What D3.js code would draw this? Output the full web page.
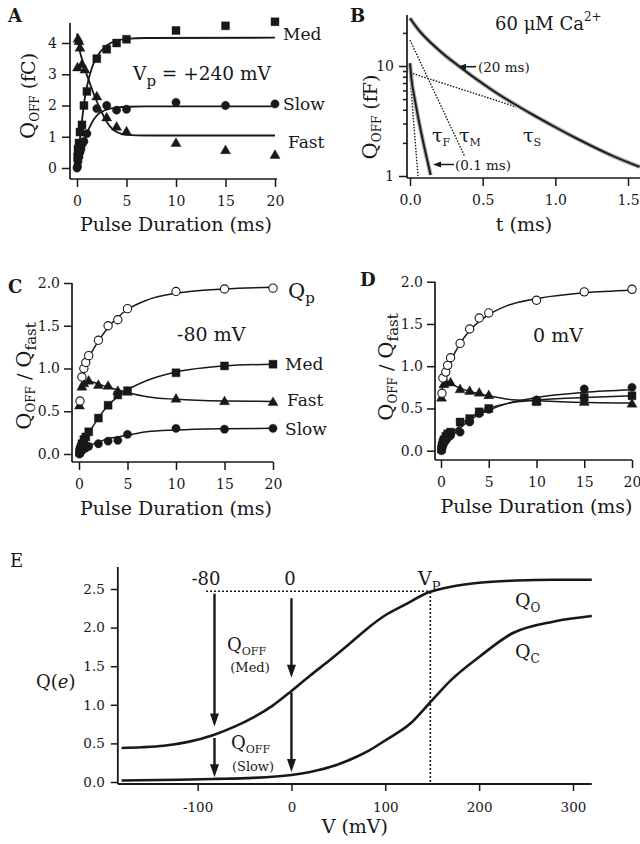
<!DOCTYPE html>
<html><head><meta charset="utf-8">
<script src="https://cdn.jsdelivr.net/npm/d3@7"></script>
<style>
body{margin:0;background:#fff;}
svg{display:block;}
</style></head><body>
<svg id="chart" width="640" height="844"></svg>
<script>
// ================= DATA =================
// Panel A (Vp = +240 mV), pulse duration (ms) vs QOFF (fC)
const aMedT  = [0.05,0.1,0.2,0.3,0.5,0.7,1,2,3,4,5,10,15,20];
const aMedV  = [0.35,0.6,0.8,1.15,1.38,2.0,2.45,3.5,3.8,4.0,4.12,4.4,4.55,4.68];
const aSlowT = [0,0.05,0.1,0.2,0.3,0.4,0.5,0.7,1,2,3,4,5,10,15,20];
const aSlowV = [0,0.05,0.2,0.35,0.5,0.6,0.75,0.85,1.1,1.9,2.0,1.85,1.88,2.1,2.0,2.05];
const aFastT = [0.05,0.1,0.2,0.3,0.5,0.8,2,3,4,5,10,15,20];
const aFastV = [3.2,4.12,4.04,3.83,3.3,3.13,2.27,1.6,1.3,1.15,0.78,0.55,0.4];
const aFitMedT  = [0,0.25,0.5,0.75,1,1.5,2,3,4,5,7,20];
const aFitMedV  = [0.1,0.8,1.5,2.15,2.6,3.2,3.55,3.92,4.08,4.13,4.16,4.17];
const aFitSlowT = [0,0.5,1,1.5,2,3,4,5,7,20];
const aFitSlowV = [0,0.65,1.1,1.45,1.68,1.87,1.93,1.96,1.97,1.97];
const aFitFastT = [0,0.3,0.64,0.9,1.3,1.8,2.4,3,4,5,7,20];
const aFitFastV = [4.3,3.72,3.35,3.07,2.71,2.28,1.85,1.48,1.15,1.06,1.04,1.04];
const aYTicks = [0,1,2,3,4];
const pdTicks = [0,5,10,15,20];

// Panel B (60 uM Ca2+), t (ms) vs QOFF (fF), log scale
const bMainT = [0,0.069,0.16,0.25,0.343,0.458,0.572,0.71,0.847,0.984,1.122,1.259,1.396,1.58];
const bMainQ = [27.2,20.5,15.5,12.2,9.85,7.57,5.96,4.58,3.59,2.85,2.28,1.85,1.52,1.21];
const bFastT = [0,0.011,0.034,0.069,0.103,0.142];
const bFastQ = [10.6,7.46,4.9,2.8,1.72,1.02];
const bTauFT = [0,0.055], bTauFQ = [8.1,1.0];
const bTauMT = [0,0.377], bTauMQ = [17.2,1.5];
const bTauST = [0,0.73],  bTauSQ = [8.7,4.25];
const bXTicks = [0,0.5,1.0,1.5];
const bYMajor = [1,10];
const bYMinor = [2,3,4,5,6,7,8,9,20];

// Panel C (-80 mV), QOFF/Qfast
const cQpT   = [0.1,0.3,0.5,0.7,1,2,3,4,5,10,15,20];
const cQpV   = [0.62,0.9,1.0,1.07,1.15,1.33,1.5,1.57,1.7,1.9,1.93,1.94];
const cMedT  = [0.05,0.1,0.2,0.3,0.5,0.7,1,2,3,4,5,10,15,20];
const cMedV  = [0.02,0.05,0.08,0.12,0.17,0.2,0.26,0.42,0.57,0.69,0.74,0.95,1.03,1.05];
const cFastT = [0.05,0.3,0.5,1,2,3,4,5,10,15,20];
const cFastV = [0.56,0.78,0.82,0.85,0.8,0.79,0.73,0.72,0.64,0.61,0.6];
const cSlowT = [0.05,0.1,0.2,0.3,0.5,0.7,1,2,3,4,5,10,15,20];
const cSlowV = [0.0,0.01,0.03,0.04,0.06,0.07,0.09,0.12,0.15,0.16,0.23,0.3,0.29,0.3];
const cFitQpT   = [0.2,0.5,1,2,3,4,5,7,10,15,20];
const cFitQpV   = [0.88,0.98,1.12,1.32,1.48,1.6,1.69,1.8,1.88,1.93,1.95];
const cFitMedT  = [0,0.5,1,2,3,4,5,7,10,15,20];
const cFitMedV  = [0.0,0.13,0.24,0.42,0.57,0.67,0.75,0.86,0.96,1.03,1.05];
const cFitFastT = [0.1,0.5,1,2,3,4,5,7,10,15,20];
const cFitFastV = [0.78,0.84,0.85,0.82,0.78,0.75,0.72,0.67,0.64,0.62,0.615];
const cFitSlowT = [0,0.5,1,2,3,4,5,7,10,15,20];
const cFitSlowV = [0,0.05,0.09,0.14,0.18,0.2,0.22,0.26,0.28,0.295,0.3];
const ratioTicks = [0,0.5,1,1.5,2];

// Panel D (0 mV)
const dQpT   = [0.1,0.2,0.5,0.7,1,2,3,4,5,10,15,20];
const dQpV   = [0.68,0.86,0.93,1.01,1.1,1.27,1.44,1.57,1.63,1.78,1.88,1.91];
const dFastT = [0.05,0.3,0.5,1,2,3,4,5,10,15,20];
const dFastV = [0.62,0.78,0.8,0.8,0.72,0.7,0.68,0.65,0.58,0.57,0.55];
const dMedT  = [0.05,0.1,0.2,0.3,0.5,0.7,1,2,3,4,5,10,15,20];
const dMedV  = [0.02,0.06,0.1,0.13,0.17,0.2,0.22,0.34,0.38,0.46,0.5,0.58,0.63,0.65];
const dSlowT = [0.05,0.1,0.2,0.3,0.5,0.7,1,2,3,4,5,10,15,20];
const dSlowV = [0.0,0.03,0.06,0.09,0.12,0.15,0.18,0.22,0.34,0.44,0.49,0.6,0.73,0.75];
const dFitQpT   = [0.1,0.5,1,2,3,4,5,7,10,15,20];
const dFitQpV   = [0.72,0.9,1.05,1.27,1.42,1.53,1.61,1.72,1.8,1.87,1.9];
const dFitFastT = [0.1,0.5,1,2,3,5,7,10,15,20];
const dFitFastV = [0.78,0.8,0.79,0.74,0.7,0.65,0.61,0.59,0.57,0.565];
const dFitMedT  = [0,0.5,1,2,3,4,5,7,10,15,20];
const dFitMedV  = [0,0.1,0.18,0.3,0.39,0.45,0.5,0.56,0.6,0.63,0.65];
const dFitSlowT = [0,0.5,1,2,3,4,5,7,10,15,20];
const dFitSlowV = [0,0.08,0.15,0.27,0.36,0.43,0.48,0.56,0.63,0.69,0.72];

// Panel E, V (mV) vs Q(e)
const eQOV = [-181,-160,-136,-110,-83,-60,-40,-20,0,20,40,60,80,100,120,147,170,200,240,280,320];
const eQO  = [0.44,0.45,0.47,0.52,0.61,0.72,0.84,0.99,1.18,1.38,1.57,1.77,1.98,2.16,2.29,2.46,2.53,2.58,2.61,2.62,2.62];
const eQCV = [-181,-120,-80,-48,0,20,48,70,83,100,127,147,170,200,236,280,320];
const eQC  = [0.02,0.03,0.04,0.05,0.09,0.13,0.22,0.33,0.41,0.54,0.76,1.02,1.32,1.62,1.93,2.08,2.15];
const eXTicks = [-100,0,100,200,300];
const eYTicks = [0,0.5,1,1.5,2,2.5];
const eVp = 148, eQlevel = 2.47;
const eHoldV = [-82, 0];          // holding potentials of the arrows
const eMedArrowQ  = [[2.44,0.72],[2.38,1.35]];  // [from, to] for -80 and 0
const eSlowArrowQ = [[0.57,0.06],[1.16,0.13]];

// ================= DRAWING =================
const svg = d3.select('#chart');
const FONT = '"DejaVu Serif","Liberation Serif",serif';
const INK = '#181818';

function styleAxis(sel, fs){
  sel.select('.domain').remove();
  sel.selectAll('.tick line').attr('stroke',INK).attr('stroke-width',1.5);
  sel.selectAll('.tick text').attr('font-family',FONT).attr('font-size',fs).attr('fill',INK);
  return sel;
}
function hline(g,x1,x2,y,w=1.7){ g.append('line').attr('x1',x1).attr('x2',x2).attr('y1',y).attr('y2',y).attr('stroke',INK).attr('stroke-width',w); }
function vline(g,x,y1,y2,w=1.7){ g.append('line').attr('x1',x).attr('x2',x).attr('y1',y1).attr('y2',y2).attr('stroke',INK).attr('stroke-width',w); }
function pairs(xs,ys){ return xs.map((v,i)=>[v,ys[i]]); }
function drawFit(g, xs, ys, x, y, opt={}){
  const line = d3.line().x(d=>x(d[0])).y(d=>y(d[1])).curve(opt.curve||d3.curveMonotoneX);
  g.append('path').datum(pairs(xs,ys)).attr('d',line).attr('fill','none')
   .attr('stroke',opt.color||INK).attr('stroke-width',opt.w||1.6)
   .attr('stroke-dasharray',opt.dash||null).attr('stroke-linecap',opt.cap||'butt');
}
function drawMarks(g, xs, ys, x, y, type, open=false){
  const sym = {square:d3.symbolSquare, circle:d3.symbolCircle, triangle:d3.symbolTriangle}[type];
  const size = {square:64, circle:54, triangle:44}[type];
  g.append('g').selectAll('path').data(pairs(xs,ys)).join('path')
   .attr('transform',d=>`translate(${x(d[0])},${y(d[1])})`)
   .attr('d', d3.symbol().type(sym).size(size)())
   .attr('fill', open?'#fff':INK).attr('stroke',INK).attr('stroke-width', open?1.1:0.4);
}
function rich(g, x, y, segs, opt={}){
  const t = g.append('text').attr('x',x).attr('y',y).attr('font-family',FONT)
    .attr('font-size',opt.size||18).attr('text-anchor',opt.anchor||'start').attr('fill',INK);
  if (opt.rotate) t.attr('transform',`rotate(${opt.rotate},${x},${y})`);
  if (opt.weight) t.attr('font-weight',opt.weight);
  let shift = 0;
  segs.forEach(s=>{
    const txt=s[0], kind=s[1]||'n', sz=s[2], off=s[3];
    const ts = t.append('tspan').text(txt);
    let target = 0;
    if (kind==='sub') target = (off!=null?off:5);
    if (kind==='sup') target = -(off!=null?off:8);
    if (target-shift!==0) ts.attr('dy', target-shift);
    shift = target;
    if (sz) ts.attr('font-size', sz);
    if (kind==='it') ts.attr('font-style','italic');
  });
  return t;
}
function arrowDown(g, x, y1, y2, w=2.4, hl=13, hw=9){
  vline(g, x, y1, y2-hl+2, w);
  g.append('path').attr('d',`M${x-hw/2},${y2-hl}L${x+hw/2},${y2-hl}L${x},${y2}Z`).attr('fill',INK);
}
function arrowLeft(g, x1, x2, y, w=1.5, hl=8, hw=6){
  hline(g, x2+hl-1, x1, y, w);
  g.append('path').attr('d',`M${x2+hl},${y-hw/2}L${x2+hl},${y+hw/2}L${x2},${y}Z`).attr('fill',INK);
}

// ---------- Panel A ----------
{
  const g = svg.append('g');
  const x = d3.scaleLinear().domain([0,20]).range([77,275]);
  const y = d3.scaleLinear().domain([0,4]).range([168,43]);
  vline(g,70,23,179); hline(g,70,277,179);
  styleAxis(g.append('g').attr('transform','translate(70,0)')
    .call(d3.axisLeft(y).tickValues(aYTicks).tickSize(8).tickPadding(5).tickFormat(d3.format('d'))),14);
  styleAxis(g.append('g').attr('transform','translate(0,179)')
    .call(d3.axisBottom(x).tickValues(pdTicks).tickSize(8).tickPadding(9).tickFormat(d3.format('d'))),14);
  drawFit(g,aFitMedT,aFitMedV,x,y,{w:1.8});
  drawFit(g,aFitSlowT,aFitSlowV,x,y,{w:1.8});
  drawFit(g,aFitFastT,aFitFastV,x,y,{w:1.8});
  drawMarks(g,aMedT,aMedV,x,y,'square');
  drawMarks(g,aSlowT,aSlowV,x,y,'circle');
  drawMarks(g,aFastT,aFastV,x,y,'triangle');
  rich(g,8,22,[['A']],{size:18,weight:'bold'});
  rich(g,283,40,[['Med']],{size:17});
  rich(g,283,110,[['Slow']],{size:17});
  rich(g,288,148,[['Fast']],{size:17});
  rich(g,133,80,[['V'],['p','sub',15,6],[' = +240 mV']],{size:18.5});
  rich(g,35,96,[['Q','n',21],['OFF','sub',12,4],[' (fC)','n',19]],{anchor:'middle',rotate:-90});
  rich(g,176,231,[['Pulse Duration (ms)']],{size:19,anchor:'middle'});
}

// ---------- Panel B ----------
{
  const g = svg.append('g');
  const x = d3.scaleLinear().domain([0,1.5]).range([410,628]);
  const y = d3.scaleLog().domain([1,10]).range([176,66]);
  vline(g,407,15,178); hline(g,407,640,178);
  styleAxis(g.append('g').attr('transform','translate(407,0)')
    .call(d3.axisLeft(y).tickValues(bYMajor).tickSize(8).tickPadding(5).tickFormat(d3.format('d'))),14);
  styleAxis(g.append('g').attr('transform','translate(407,0)')
    .call(d3.axisLeft(y).tickValues(bYMinor).tickSize(4).tickFormat('')),14);
  styleAxis(g.append('g').attr('transform','translate(0,178)')
    .call(d3.axisBottom(x).tickValues(bXTicks).tickSize(8).tickPadding(9).tickFormat(d3.format('.1f'))),14);
  // dotted exponential components
  drawFit(g,bTauFT,bTauFQ,x,y,{w:1.4,dash:'1.5,1.5',curve:d3.curveLinear});
  drawFit(g,bTauMT,bTauMQ,x,y,{w:1.4,dash:'1.5,1.5',curve:d3.curveLinear});
  drawFit(g,bTauST,bTauSQ,x,y,{w:1.4,dash:'1.5,1.5',curve:d3.curveLinear});
  // records (grey) with fits (black)
  drawFit(g,bMainT,bMainQ,x,y,{w:4.2,color:'#a8a8a8'});
  drawFit(g,bFastT,bFastQ,x,y,{w:4.2,color:'#a8a8a8'});
  drawFit(g,bMainT,bMainQ,x,y,{w:1.9});
  drawFit(g,bFastT,bFastQ,x,y,{w:1.9});
  rich(g,350,22,[['B']],{size:18,weight:'bold'});
  rich(g,495,30,[['60 μM Ca'],['2+','sup',12,9]],{size:18});
  arrowLeft(g,476,458,66.7);
  rich(g,478,71.5,[['(20 ms)']],{size:13.5});
  arrowLeft(g,454,433,164.5);
  rich(g,455,169.5,[['(0.1 ms)']],{size:13.5});
  rich(g,432,142,[['τ'],['F','sub',11,4]],{size:19});
  rich(g,459,142,[['τ'],['M','sub',11,4]],{size:19});
  rich(g,523,142,[['τ'],['S','sub',11,4]],{size:19});
  rich(g,377,117,[['Q','n',21],['OFF','sub',12,4],[' (fF)','n',19]],{anchor:'middle',rotate:-90});
  rich(g,524,231,[['t (ms)']],{size:19,anchor:'middle'});
}

// ---------- Panels C & D ----------
function ratioPanel(cfg){
  const g = svg.append('g');
  const x = d3.scaleLinear().domain([0,20]).range(cfg.xr);
  const y = d3.scaleLinear().domain([0,2]).range(cfg.yr);
  vline(g,cfg.ax,cfg.yr[1],cfg.ay); hline(g,cfg.ax,cfg.xr[1],cfg.ay);
  styleAxis(g.append('g').attr('transform',`translate(${cfg.ax},0)`)
    .call(d3.axisLeft(y).tickValues(ratioTicks).tickSize(8).tickPadding(4).tickFormat(d3.format('.1f'))),14);
  styleAxis(g.append('g').attr('transform',`translate(0,${cfg.ay})`)
    .call(d3.axisBottom(x).tickValues(pdTicks).tickSize(8).tickPadding(9).tickFormat(d3.format('d'))),14);
  const f = cfg.fits;
  f.forEach(s=>drawFit(g,s[0],s[1],x,y,{w:1.5}));
  const m = cfg.marks;
  drawMarks(g,m.slow[0],m.slow[1],x,y,'circle');
  drawMarks(g,m.med[0],m.med[1],x,y,'square');
  drawMarks(g,m.fast[0],m.fast[1],x,y,'triangle');
  drawMarks(g,m.qp[0],m.qp[1],x,y,'circle',true);
  rich(g,cfg.letter[0],cfg.letter[1],[[cfg.letter[2]]],{size:18,weight:'bold'});
  rich(g,cfg.ylab[0],cfg.ylab[1],[['Q','n',21],['OFF','sub',12,4],[' / ','n',19],['Q','n',21],['fast','sub',15,5]],{anchor:'middle',rotate:-90});
  rich(g,(cfg.xr[0]+cfg.xr[1])/2,cfg.ay+53,[['Pulse Duration (ms)']],{size:19,anchor:'middle'});
  return g;
}
{
  const g = ratioPanel({xr:[79,273], yr:[454,283], ax:72, ay:462,
    fits:[[cFitQpT,cFitQpV],[cFitMedT,cFitMedV],[cFitFastT,cFitFastV],[cFitSlowT,cFitSlowV]],
    marks:{qp:[cQpT,cQpV],med:[cMedT,cMedV],fast:[cFastT,cFastV],slow:[cSlowT,cSlowV]},
    letter:[8,293,'C'], ylab:[31,376]});
  rich(g,288,298,[['Q','n',21],['p','sub',15,5]],{size:21});
  rich(g,177,341,[['-80 mV']],{size:19});
  rich(g,285,370,[['Med']],{size:17});
  rich(g,287,406,[['Fast']],{size:17});
  rich(g,285,435,[['Slow']],{size:17});
}
{
  const g = ratioPanel({xr:[441,632], yr:[450.7,281.7], ax:435, ay:460,
    fits:[[dFitQpT,dFitQpV],[dFitMedT,dFitMedV],[dFitFastT,dFitFastV],[dFitSlowT,dFitSlowV]],
    marks:{qp:[dQpT,dQpV],med:[dMedT,dMedV],fast:[dFastT,dFastV],slow:[dSlowT,dSlowV]},
    letter:[360,286,'D'], ylab:[393,367]});
  rich(g,533,342,[['0 mV']],{size:19});
}

// ---------- Panel E ----------
{
  const g = svg.append('g');
  const x = d3.scaleLinear().domain([-100,300]).range([197.6,573]);
  const y = d3.scaleLinear().domain([0,2.5]).range([782,589]);
  const x0 = x(-185), x1 = x(320);
  vline(g,x0,567,784,1.8); hline(g,x0,x1,784,1.8);
  styleAxis(g.append('g').attr('transform',`translate(${x0},0)`)
    .call(d3.axisLeft(y).tickValues(eYTicks).tickSize(7).tickPadding(6).tickFormat(d3.format('.1f'))),13.5);
  styleAxis(g.append('g').attr('transform','translate(0,784)')
    .call(d3.axisBottom(x).tickValues(eXTicks).tickSize(7).tickPadding(11).tickFormat(d=>String(d))),13.5);
  // dotted guides
  g.append('line').attr('x1',x(-91)).attr('x2',x(eVp)).attr('y1',y(eQlevel)).attr('y2',y(eQlevel))
    .attr('stroke',INK).attr('stroke-width',1.6).attr('stroke-dasharray','2,2');
  g.append('line').attr('x1',x(eVp)).attr('x2',x(eVp)).attr('y1',y(0)).attr('y2',y(eQlevel))
    .attr('stroke',INK).attr('stroke-width',1.6).attr('stroke-dasharray','2,2');
  drawFit(g,eQOV,eQO,x,y,{w:2.6});
  drawFit(g,eQCV,eQC,x,y,{w:2.6});
  eHoldV.forEach((v,i)=>{
    arrowDown(g,x(v),y(eMedArrowQ[i][0]),y(eMedArrowQ[i][1]));
    arrowDown(g,x(v),y(eSlowArrowQ[i][0]),y(eSlowArrowQ[i][1]));
  });
  rich(g,10,567,[['E']],{size:18});
  rich(g,206,585,[['-80']],{size:18,anchor:'middle'});
  rich(g,290,585,[['0']],{size:18,anchor:'middle'});
  rich(g,418,585,[['V'],['P','sub',13,6]],{size:19});
  rich(g,515,607,[['Q'],['O','sub',12,5]],{size:19});
  rich(g,515,658,[['Q'],['C','sub',12,5]],{size:19});
  rich(g,227,651,[['Q'],['OFF','sub',11,4]],{size:18});
  rich(g,250,672,[['(Med)']],{size:13,anchor:'middle'});
  rich(g,231,749,[['Q'],['OFF','sub',11,4]],{size:18});
  rich(g,253,771,[['(Slow)']],{size:13,anchor:'middle'});
  rich(g,36,688,[['Q('],['e','it'],[')']],{size:18});
  rich(g,(x0+x1)/2,833,[['V (mV)']],{size:19,anchor:'middle'});
}
</script></body></html>
